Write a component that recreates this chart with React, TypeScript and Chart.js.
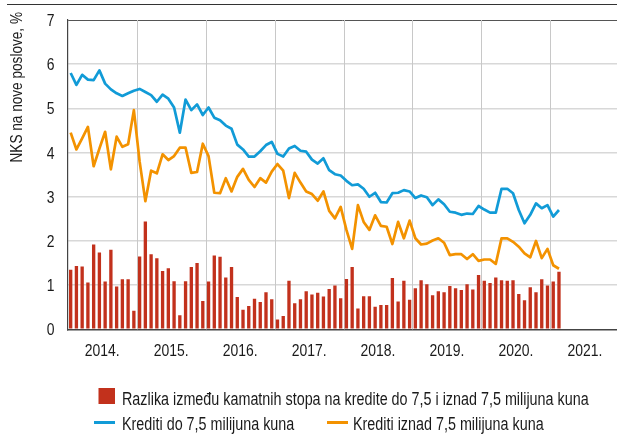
import React, { useEffect, useRef } from 'react';
import { Chart, registerables } from 'chart.js';

Chart.register(...registerables);

const FONT = "'Liberation Sans', Arial, sans-serif";
const NARROW = 0.82; // horizontal compression to mimic a narrow grotesque

const years = ['2014.', '2015.', '2016.', '2017.', '2018.', '2019.', '2020.', '2021.'];

// monthly values, Jan 2014 - Feb 2021
const spread = [
  1.35, 1.43, 1.42, 1.06, 1.92, 1.74, 1.08, 1.80, 0.97, 1.13, 1.13, 0.42,
  1.65, 2.44, 1.70, 1.61, 1.32, 1.38, 1.09, 0.32, 1.09, 1.41, 1.50, 0.64,
  1.08, 1.67, 1.64, 1.17, 1.41, 0.73, 0.44, 0.53, 0.69, 0.62, 0.84, 0.68,
  0.22, 0.30, 1.10, 0.59, 0.68, 0.86, 0.79, 0.83, 0.74, 0.91, 0.99, 0.70,
  1.14, 1.41, 0.47, 0.75, 0.75, 0.51, 0.55, 0.55, 1.16, 0.63, 1.10, 0.67,
  0.93, 1.11, 1.02, 0.77, 0.86, 0.84, 0.98, 0.93, 0.89, 1.02, 0.90, 1.23,
  1.10, 1.05, 1.17, 1.11, 1.10, 1.11, 0.80, 0.66, 0.95, 0.84, 1.13, 0.99,
  1.08, 1.30,
];

const smallLoans = [
  5.80, 5.53, 5.76, 5.65, 5.64, 5.86, 5.56, 5.43, 5.34, 5.28, 5.34, 5.40,
  5.44, 5.37, 5.30, 5.15, 5.31, 5.22, 5.02, 4.45, 5.20, 4.96, 5.09, 4.85,
  5.02, 4.79, 4.73, 4.61, 4.54, 4.18, 4.07, 3.91, 3.91, 4.03, 4.17, 4.24,
  3.97, 3.91, 4.09, 4.15, 4.04, 4.02, 3.84, 3.75, 3.87, 3.60, 3.51, 3.48,
  3.36, 3.26, 3.28, 3.18, 3.00, 3.09, 2.88, 2.87, 3.08, 3.09, 3.15, 3.12,
  2.97, 3.03, 2.99, 2.81, 2.94, 2.83, 2.66, 2.64, 2.59, 2.62, 2.61, 2.79,
  2.71, 2.64, 2.64, 3.18, 3.18, 3.08, 2.70, 2.40, 2.59, 2.85, 2.74, 2.81,
  2.55, 2.70,
];

const largeLoans = [
  4.45, 4.07, 4.32, 4.58, 3.69, 4.09, 4.47, 3.62, 4.36, 4.13, 4.19, 4.96,
  3.80, 2.90, 3.59, 3.53, 3.96, 3.83, 3.92, 4.11, 4.11, 3.54, 3.56, 4.20,
  3.92, 3.09, 3.08, 3.42, 3.12, 3.45, 3.63, 3.38, 3.22, 3.42, 3.32, 3.57,
  3.74, 3.59, 2.97, 3.54, 3.32, 3.12, 3.06, 2.91, 3.12, 2.68, 2.51, 2.77,
  2.25, 1.82, 2.81, 2.43, 2.25, 2.58, 2.34, 2.32, 1.93, 2.43, 2.06, 2.46,
  2.06, 1.92, 1.94, 2.01, 2.06, 1.96, 1.68, 1.70, 1.70, 1.59, 1.70, 1.55,
  1.58, 1.58, 1.48, 2.06, 2.06, 1.98, 1.87, 1.72, 1.63, 2.00, 1.61, 1.82,
  1.45, 1.37,
];

const legendLabels = [
  'Razlika između kamatnih stopa na kredite do 7,5 i iznad 7,5 milijuna kuna',
  'Krediti do 7,5 milijuna kuna',
  'Krediti iznad 7,5 milijuna kuna',
];
const yTitle = 'NKS na nove poslove, %';

const RED = '#c2311c';
const BLUE = '#119bd7';
const ORANGE = '#f39200';
const TEXT = '#1a1a1a';

const toPoints = (arr: number[]) => arr.map((y, i) => ({ x: i + 0.5, y }));

function narrowText(
  ctx: CanvasRenderingContext2D,
  text: string,
  x: number,
  y: number,
  align: CanvasTextAlign,
  size: number,
  rotate = 0,
) {
  ctx.save();
  ctx.font = `${size}px ${FONT}`;
  ctx.fillStyle = TEXT;
  ctx.textBaseline = 'alphabetic';
  ctx.textAlign = align;
  ctx.translate(x, y);
  if (rotate) ctx.rotate(rotate);
  ctx.scale(NARROW, 1);
  ctx.fillText(text, 0, 0);
  ctx.restore();
}

const decorations = {
  id: 'decorations',
  beforeDatasetsDraw(chart: any) {
    // vertical year-boundary grid lines
    const ctx = chart.ctx as CanvasRenderingContext2D;
    const xs = chart.scales.x;
    const area = chart.chartArea;
    ctx.save();
    ctx.strokeStyle = '#c8c8c8';
    ctx.lineWidth = 1;
    for (let k = 1; k < years.length; k++) {
      const px = Math.round(xs.getPixelForValue(12 * k)) + 0.5;
      ctx.beginPath();
      ctx.moveTo(px, area.top);
      ctx.lineTo(px, area.bottom);
      ctx.stroke();
    }
    ctx.restore();
  },
  afterDraw(chart: any) {
    const ctx = chart.ctx as CanvasRenderingContext2D;
    const xs = chart.scales.x;
    const ys = chart.scales.y;
    ctx.save();
    // top rule
    ctx.strokeStyle = '#333';
    ctx.lineWidth = 1.2;
    ctx.beginPath();
    ctx.moveTo(7, 4.5);
    ctx.lineTo(617, 4.5);
    ctx.stroke();

    // x tick labels (year centred in its span)
    years.forEach((yr, i) => {
      const px = xs.getPixelForValue(6 + 12 * i);
      narrowText(ctx, yr, px, 356.3, 'center', 17);
    });
    // y tick labels
    ys.ticks.forEach((t: any) => {
      const py = ys.getPixelForValue(t.value);
      narrowText(ctx, String(t.value), 54.5, py + 6, 'right', 17);
    });

    // y title
    narrowText(ctx, yTitle, 21.5, 12, 'right', 16.6, -Math.PI / 2);

    // legend
    ctx.fillStyle = RED;
    ctx.fillRect(98.5, 388, 16.5, 16);
    narrowText(ctx, legendLabels[0], 122, 404.5, 'left', 17.5);

    ctx.lineWidth = 3;
    ctx.strokeStyle = BLUE;
    ctx.beginPath();
    ctx.moveTo(94, 422.5);
    ctx.lineTo(115, 422.5);
    ctx.stroke();
    narrowText(ctx, legendLabels[1], 122, 429.8, 'left', 17.5);

    ctx.strokeStyle = ORANGE;
    ctx.beginPath();
    ctx.moveTo(327, 422.5);
    ctx.lineTo(348, 422.5);
    ctx.stroke();
    narrowText(ctx, legendLabels[2], 353, 429.8, 'left', 17.5);
    ctx.restore();
  },
};

export default function App() {
  const ref = useRef<HTMLCanvasElement | null>(null);
  useEffect(() => {
    if (!ref.current) return;
    const chart = new Chart(ref.current, {
      type: 'bar',
      data: {
        datasets: [
          {
            type: 'bar',
            label: legendLabels[0],
            data: toPoints(spread),
            backgroundColor: RED,
            barPercentage: 0.58,
            categoryPercentage: 1,
            order: 2,
          } as any,
          {
            type: 'line',
            label: legendLabels[1],
            data: toPoints(smallLoans),
            borderColor: BLUE,
            borderWidth: 2.7,
            pointRadius: 0,
            tension: 0,
            borderJoinStyle: 'round',
            order: 1,
          },
          {
            type: 'line',
            label: legendLabels[2],
            data: toPoints(largeLoans),
            borderColor: ORANGE,
            borderWidth: 2.7,
            pointRadius: 0,
            tension: 0,
            borderJoinStyle: 'round',
            order: 0,
          },
        ],
      },
      options: {
        responsive: false,
        animation: false,
        devicePixelRatio: 1,
        layout: { padding: { top: 20, left: 0, right: 0, bottom: 0 } },
        plugins: { legend: { display: false }, tooltip: { enabled: false } },
        scales: {
          x: {
            type: 'linear',
            offset: false,
            min: 0,
            max: 95.6,
            afterBuildTicks: (scale: any) => {
              const t = [];
              for (let v = 0; v <= 84; v += 12) t.push({ value: v });
              scale.ticks = t;
            },
            afterFit: (scale: any) => {
              scale.height = 435 - 329.3;
            },
            ticks: { display: false },
            grid: { display: false, offset: false, drawTicks: false },
            border: { display: true, color: '#444', width: 1.5 },
          },
          y: {
            min: 0,
            max: 7,
            afterFit: (scale: any) => {
              scale.width = 67.8;
            },
            ticks: { display: false, stepSize: 1 },
            grid: {
              drawTicks: false,
              color: (c: any) => {
                const v = c.tick ? c.tick.value : 0;
                if (v === 0) return 'rgba(0,0,0,0)';
                if (v === 7) return '#555';
                return '#d8d8d8';
              },
              lineWidth: (c: any) => {
                const v = c.tick ? c.tick.value : 0;
                return v === 7 ? 1 : 1.5;
              },
            },
            border: { display: true, color: '#444', width: 1.2 },
          },
        },
      },
      plugins: [decorations],
    });
    return () => chart.destroy();
  }, []);
  return (
    <div style={{ position: 'fixed', left: 0, top: 0, width: 617, height: 435, background: '#fff' }}>
      <canvas ref={ref} width={617} height={435} style={{ display: 'block' }} />
    </div>
  );
}
